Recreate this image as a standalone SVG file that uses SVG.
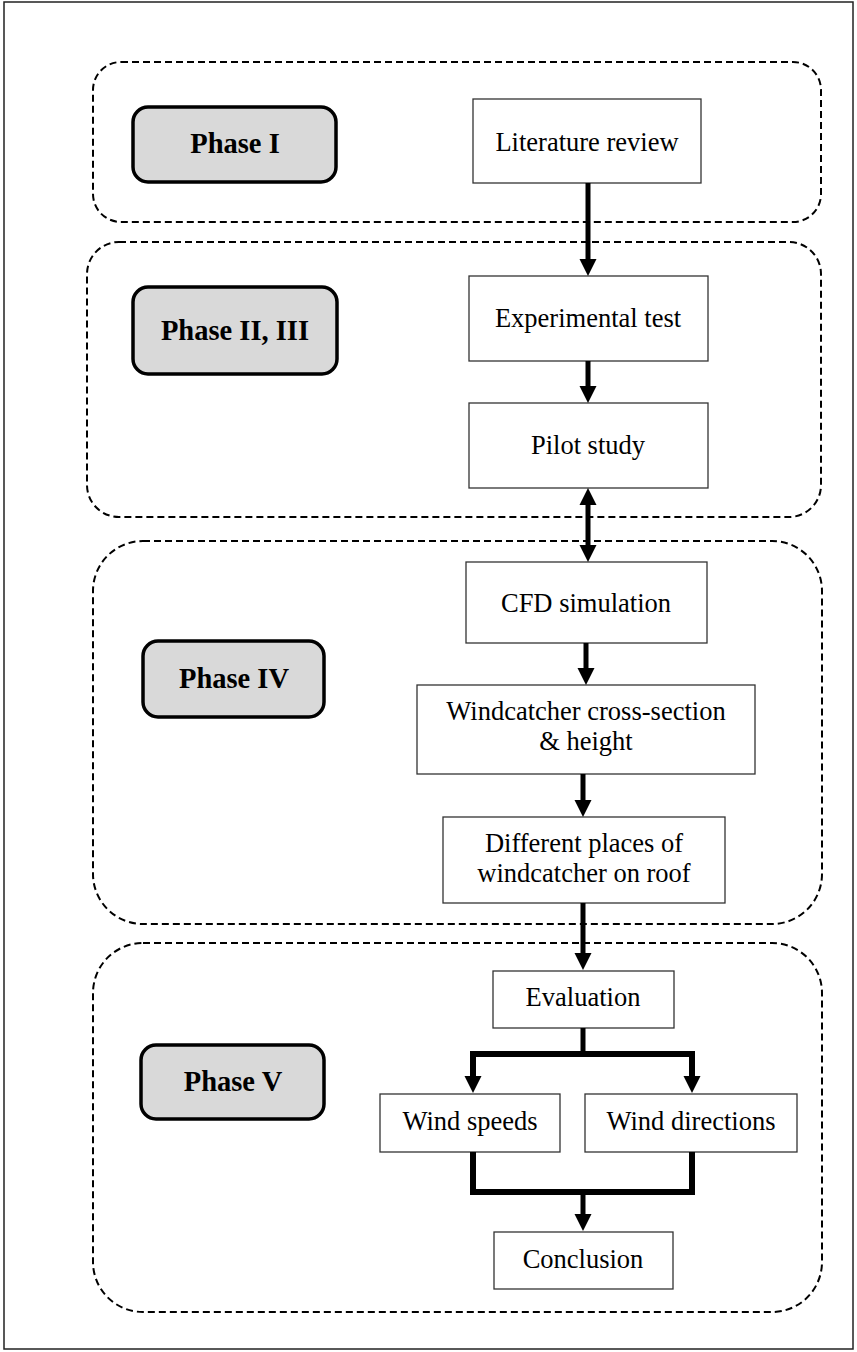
<svg xmlns="http://www.w3.org/2000/svg" width="857" height="1352" viewBox="0 0 857 1352">
<style>
.frame{fill:#fff;stroke:#222;stroke-width:1.5}
.phase{fill:none;stroke:#000;stroke-width:2;stroke-dasharray:7 4}
.lbl{fill:#d9d9d9;stroke:#000;stroke-width:3.5}
.box{fill:#fff;stroke:#333;stroke-width:1.3}
.lt{font-family:"Liberation Serif","Times New Roman",serif;font-size:28.5px;font-weight:bold;text-anchor:middle;fill:#000}
.bt{font-family:"Liberation Serif","Times New Roman",serif;font-size:26.5px;text-anchor:middle;fill:#000}
.c{fill:none;stroke:#000;stroke-width:5;stroke-linejoin:miter}
.h{fill:none;stroke:#000;stroke-width:6;stroke-linejoin:miter}
</style>
<defs>
<marker id="ah" markerUnits="userSpaceOnUse" markerWidth="18" markerHeight="18" refX="0" refY="9" orient="auto-start-reverse" viewBox="0 0 18 18">
<path d="M0,0.5 L17,9 L0,17.5 Z" fill="#000"/>
</marker>
</defs>
<rect class="frame" x="4" y="2" width="849" height="1347"/>
<g id="phase1-container"><rect class="phase" x="93" y="62" width="728" height="160" rx="28"/></g>
<g id="phase23-container"><rect class="phase" x="87" y="242" width="734" height="275" rx="32"/></g>
<g id="phase4-container"><rect class="phase" x="93" y="541" width="729" height="383" rx="50"/></g>
<g id="phase5-container"><rect class="phase" x="93" y="943" width="729" height="369" rx="50"/></g>

<g id="phase1"><rect class="lbl" x="133" y="107" width="203" height="75" rx="15"/><text class="lt" x="235" y="153">Phase I</text></g>
<g id="phase23"><rect class="lbl" x="133" y="287" width="204" height="87" rx="15"/><text class="lt" x="235" y="340">Phase II, III</text></g>
<g id="phase4"><rect class="lbl" x="143" y="641" width="181" height="76" rx="15"/><text class="lt" x="234" y="688">Phase IV</text></g>
<g id="phase5"><rect class="lbl" x="141" y="1045" width="183" height="74" rx="15"/><text class="lt" x="233" y="1091">Phase V</text></g>

<g id="literature"><rect class="box" x="473" y="99" width="228" height="84"/><text class="bt" x="587" y="151">Literature review</text></g>
<g id="experimental"><rect class="box" x="469" y="276" width="239" height="85"/><text class="bt" x="588" y="327">Experimental test</text></g>
<g id="pilot"><rect class="box" x="469" y="403" width="239" height="85"/><text class="bt" x="588" y="454">Pilot study</text></g>
<g id="cfd"><rect class="box" x="466" y="562" width="241" height="81"/><text class="bt" x="586" y="612">CFD simulation</text></g>
<g id="windcatcher"><rect class="box" x="417" y="685" width="338" height="89"/><text class="bt" x="586" y="720">Windcatcher cross-section</text><text class="bt" x="586" y="750">&amp; height</text></g>
<g id="places"><rect class="box" x="443" y="817" width="282" height="86"/><text class="bt" x="584" y="852">Different places of</text><text class="bt" x="584" y="882">windcatcher on roof</text></g>
<g id="evaluation"><rect class="box" x="493" y="971" width="181" height="57"/><text class="bt" x="583" y="1006">Evaluation</text></g>
<g id="speeds"><rect class="box" x="380" y="1094" width="180" height="58"/><text class="bt" x="470" y="1130">Wind speeds</text></g>
<g id="directions"><rect class="box" x="585" y="1094" width="212" height="58"/><text class="bt" x="691" y="1130">Wind directions</text></g>
<g id="conclusion"><rect class="box" x="494" y="1232" width="179" height="57"/><text class="bt" x="583" y="1268">Conclusion</text></g>

<g id="connectors">
<path class="c" d="M588,183 V259" marker-end="url(#ah)"/>
<path class="c" d="M588,361 V386" marker-end="url(#ah)"/>
<path class="c" d="M588,505 V545" marker-start="url(#ah)" marker-end="url(#ah)"/>
<path class="c" d="M586,643 V668" marker-end="url(#ah)"/>
<path class="c" d="M583,774 V800" marker-end="url(#ah)"/>
<path class="c" d="M583,903 V953" marker-end="url(#ah)"/>
<path class="c" d="M583,1028 V1054"/>
<path class="h" d="M583,1054 H473 V1076" marker-end="url(#ah)"/>
<path class="h" d="M583,1054 H692 V1076" marker-end="url(#ah)"/>
<path class="h" d="M473,1152 V1192 H692 V1152"/>
<path class="c" d="M583,1192 V1214" marker-end="url(#ah)"/>
</g>
</svg>
